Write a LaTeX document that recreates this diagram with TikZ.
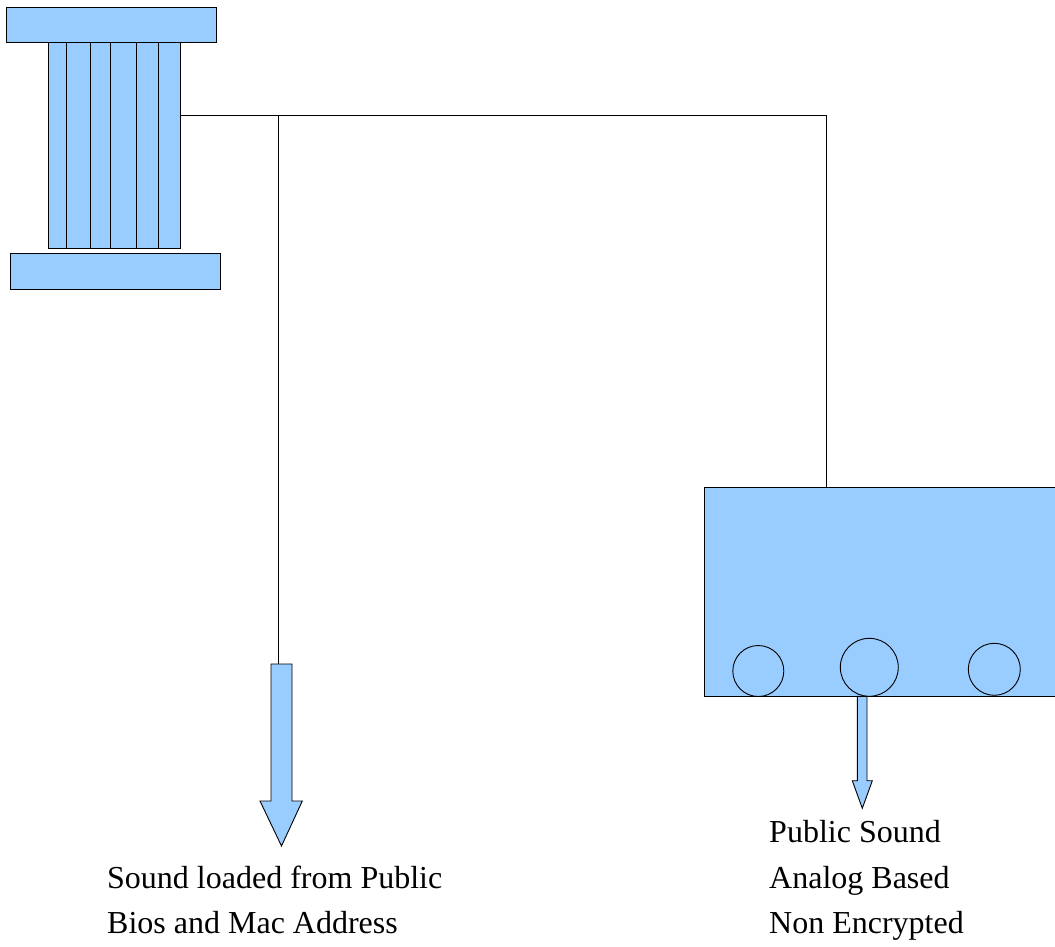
\documentclass[tikz,border=0pt]{standalone}
\usepackage{fontspec}
\setmainfont{Liberation Serif}
\definecolor{boxblue}{HTML}{99CCFF}
\begin{document}
\begin{tikzpicture}[x=1pt,y=-1pt,
  box/.style={draw, fill=boxblue, line width=0.9pt, inner sep=0pt, outer sep=0pt, anchor=north west},
  port/.style={draw, circle, line width=0.9pt, inner sep=0pt, outer sep=0pt},
  wire/.style={draw, line width=0.8pt},
  fat/.style={draw, fill=boxblue, line width=0.9pt, line join=miter},
  lbl/.style={anchor=base west, inner sep=0pt, font=\fontsize{32}{46}\selectfont}]
\clip (0,0) rectangle (1055,946);
% column
\node[box, minimum width=210pt, minimum height=35.5pt] (top) at (6,7) {};
\node[box, minimum width=132pt, minimum height=205.5pt] (col) at (48.3,42.5) {};
\node[box, minimum width=210.3pt, minimum height=36pt] (bot) at (10,253.3) {};
\foreach \x in {66.3,90,110.3,136.3,158.3}
  \draw[line width=0.9pt] (\x,42.5) -- (\x,248);
% device
\node[box, minimum width=360pt, minimum height=209.5pt] (dev) at (704,487) {};
\node[port, minimum size=51pt] (p1) at (758.3,671) {};
\node[port, minimum size=58pt] (p2) at (869.3,667.3) {};
\node[port, minimum size=52pt] (p3) at (994.3,669.3) {};
% arrows
\coordinate (la) at (278.3,664);
\filldraw[fat] (271,664) -- (292,664) -- (292,801) -- (302.3,801) -- (281.5,846) -- (260,801) -- (271,801) -- cycle;
\filldraw[fat] (857.3,696.3) -- (867,696.3) -- (867,780.7) -- (872.3,780.7) -- (862.3,808.3) -- (852.3,780.7) -- (857.3,780.7) -- cycle;
% wires
\coordinate (j) at (278.3,115);
\coordinate (k) at (826,115);
\draw[wire] (col.east |- j) -- (k) -- (k |- dev.north);
\draw[wire] (j) -- (la);
% labels
\node[lbl] (l1) at (107,888) {Sound loaded from Public};
\node[lbl] (l2) at (107,933) {Bios and Mac Address};
\node[lbl] (r1) at (769,842) {Public Sound};
\node[lbl] (r2) at (769,888) {Analog Based};
\node[lbl] (r3) at (769,933) {Non Encrypted};
\end{tikzpicture}
\end{document}
